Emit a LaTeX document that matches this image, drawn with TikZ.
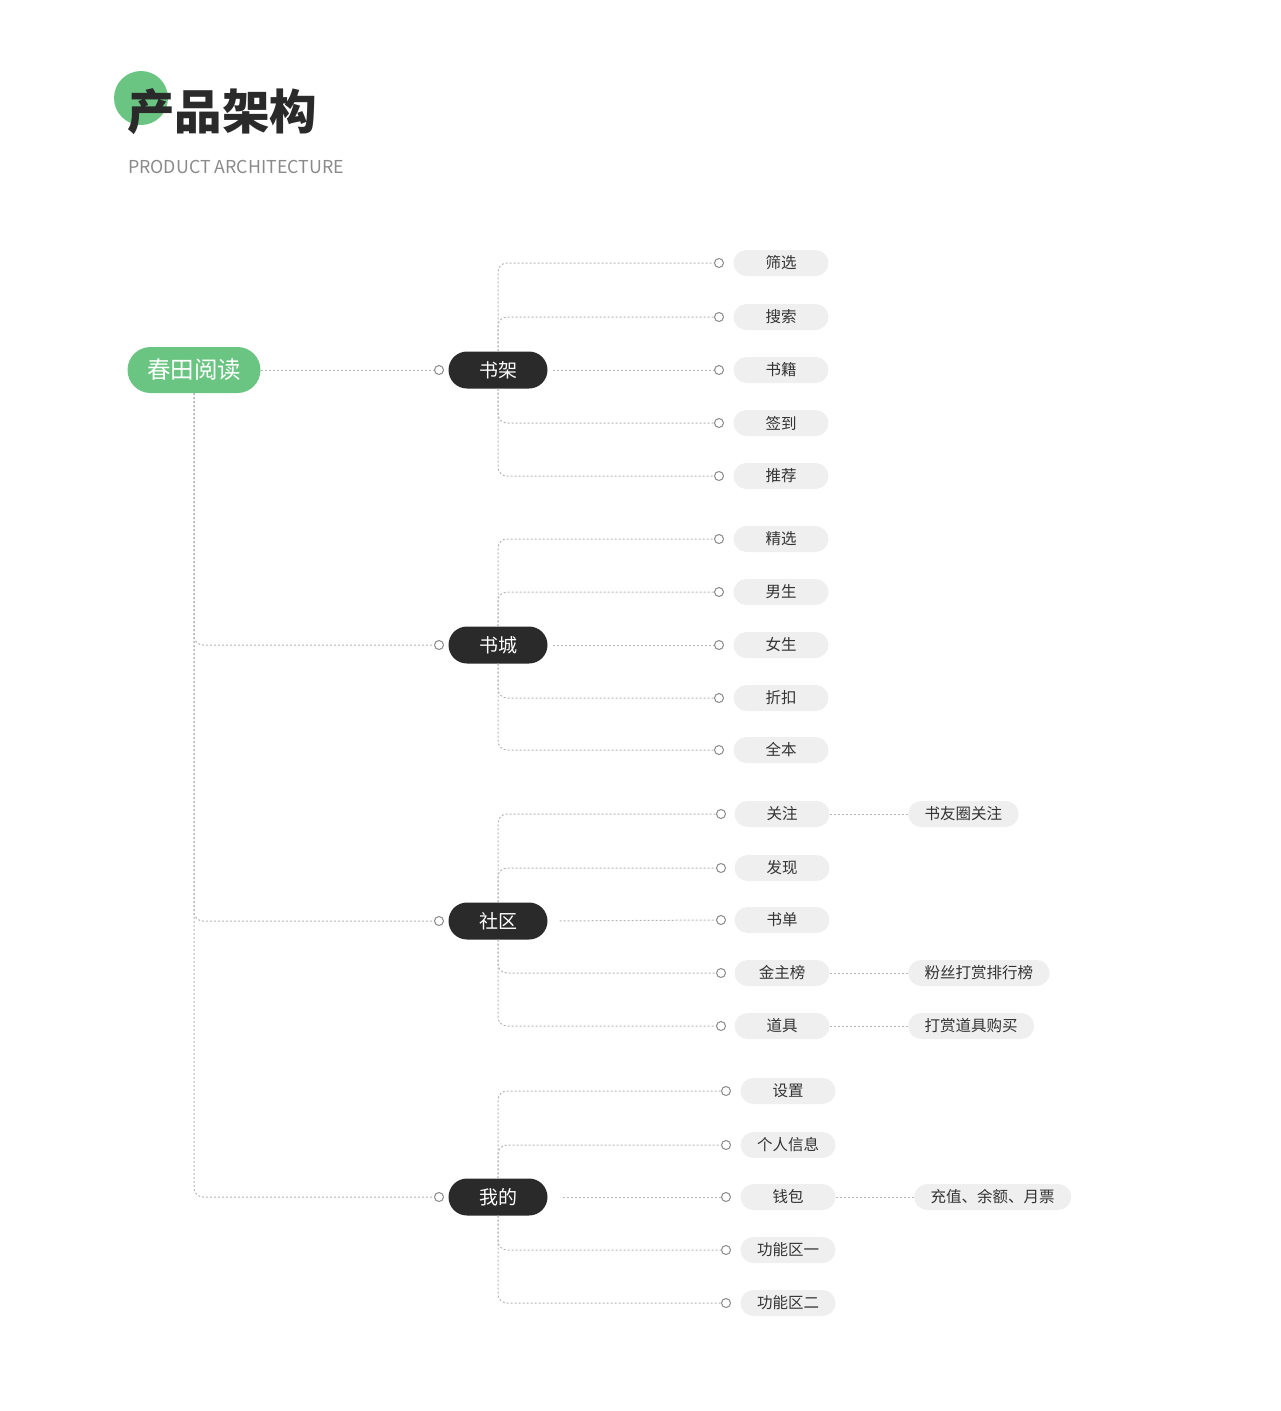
\documentclass[tikz,border=0pt]{standalone}
\usepackage{fontspec}
\setmainfont{Noto Sans CJK SC}
\usepackage{tikz}
\definecolor{chungreen}{HTML}{6BC582}
\definecolor{darkpill}{HTML}{2A2A2A}
\definecolor{leafgrey}{HTML}{EFEFEF}
\definecolor{linegrey}{HTML}{B5B5B5}
\definecolor{knobgrey}{HTML}{8A8A8A}
\definecolor{inkgrey}{HTML}{333333}

\begin{document}
\begin{tikzpicture}[x=1pt,y=-1pt,
    root/.style={fill=chungreen,text=white,rounded corners=23pt,minimum width=133pt,minimum height=46pt,inner sep=0pt,font=\fontsize{23.5}{23.5}\selectfont},
    major/.style={fill=darkpill,text=white,rounded corners=18.5pt,minimum width=99pt,minimum height=37pt,inner sep=0pt,font=\fontsize{19}{19}\selectfont},
    leaf/.style={fill=leafgrey,text=inkgrey,rounded corners=13pt,minimum width=95pt,minimum height=26pt,inner sep=0pt,font=\fontsize{15.5}{15.5}\selectfont},
    extra/.style={leaf,minimum width=0pt,inner xsep=16.5pt},
    knob/.style={circle,draw=knobgrey,fill=white,line width=1pt,minimum size=9pt,inner sep=0pt},
    link/.style={draw=linegrey,line width=1pt,dash pattern=on 2pt off 2pt,rounded corners=9pt}]
\useasboundingbox (0,0) rectangle (1280,1411);

% title
\fill[chungreen] (141,98) circle (27);
\node[anchor=west,text=darkpill,font=\fontsize{47.5}{47.5}\selectfont\bfseries,inner sep=0pt] (title) at (127,112) {产品架构};
\node[anchor=west,text=knobgrey,font=\fontsize{17.8}{17.8}\selectfont,inner sep=0pt] (subtitle) at (128,167) {PRODUCT ARCHITECTURE};

% root and main branches
\node[root] (root) at (194,370) {春田阅读};
\node[major] (sj) at (498,370) {书架};
\node[major] (sc) at (498,645) {书城};
\node[major] (sq) at (498,921) {社区};
\node[major] (wd) at (498,1197) {我的};
\node[knob] (ksj) at (439,370) {};
\node[knob] (ksc) at (439,645) {};
\node[knob] (ksq) at (439,921) {};
\node[knob] (kwd) at (439,1197) {};
\draw[link] (root.east) -- (ksj.west);
\draw[link] (root.south) |- (ksc.west);
\draw[link] (root.south) |- (ksq.west);
\draw[link] (root.south) |- (kwd.west);

% 书架
\foreach \n/\y/\t in {a1/263/筛选, a2/317/搜索, a3/370/书籍, a4/423/签到, a5/476/推荐} {
    \node[leaf] (\n) at (781,\y) {\t};
    \node[knob] (k\n) at (719,\y) {};
}
\draw[link] (sj.north) |- (ka1.west);
\draw[link] (sj.north) |- (ka2.west);
\draw[link,shorten <=5pt] (sj.east) -- (ka3.west);
\draw[link] (sj.south) |- (ka4.west);
\draw[link] (sj.south) |- (ka5.west);

% 书城
\foreach \n/\y/\t in {b1/539/精选, b2/592/男生, b3/645/女生, b4/698/折扣, b5/750/全本} {
    \node[leaf] (\n) at (781,\y) {\t};
    \node[knob] (k\n) at (719,\y) {};
}
\draw[link] (sc.north) |- (kb1.west);
\draw[link] (sc.north) |- (kb2.west);
\draw[link,shorten <=5pt] (sc.east) -- (kb3.west);
\draw[link] (sc.south) |- (kb4.west);
\draw[link] (sc.south) |- (kb5.west);

% 社区
\foreach \n/\y/\t in {c1/814/关注, c2/868/发现, c3/920/书单, c4/973/金主榜, c5/1026/道具} {
    \node[leaf] (\n) at (782,\y) {\t};
    \node[knob] (k\n) at (721,\y) {};
}
\draw[link] (sq.north) |- (kc1.west);
\draw[link] (sq.north) |- (kc2.west);
\draw[link,shorten <=12pt] (sq.east) -- (kc3.west);
\draw[link] (sq.south) |- (kc4.west);
\draw[link] (sq.south) |- (kc5.west);
\node[extra,anchor=west] (c1x) at (908,814) {书友圈关注};
\node[extra,anchor=west] (c4x) at (908,973) {粉丝打赏排行榜};
\node[extra,anchor=west] (c5x) at (908,1026) {打赏道具购买};
\draw[link] (c1.east) -- (c1x.west);
\draw[link] (c4.east) -- (c4x.west);
\draw[link] (c5.east) -- (c5x.west);

% 我的
\foreach \n/\y/\t in {d1/1091/设置, d2/1145/个人信息, d3/1197/钱包, d4/1250/功能区一, d5/1303/功能区二} {
    \node[leaf] (\n) at (788,\y) {\t};
    \node[knob] (k\n) at (726,\y) {};
}
\draw[link] (wd.north) |- (kd1.west);
\draw[link] (wd.north) |- (kd2.west);
\draw[link,shorten <=15pt] (wd.east) -- (kd3.west);
\draw[link] (wd.south) |- (kd4.west);
\draw[link] (wd.south) |- (kd5.west);
\node[extra,anchor=west] (d3x) at (914,1197) {充值、余额、月票};
\draw[link] (d3.east) -- (d3x.west);
\end{tikzpicture}
\end{document}
